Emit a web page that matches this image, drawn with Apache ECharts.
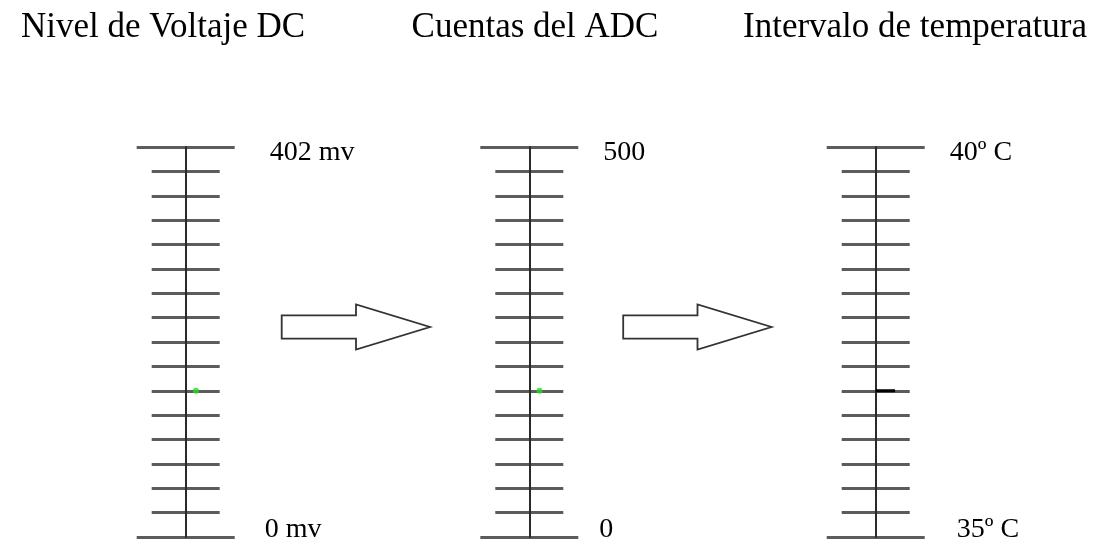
<!DOCTYPE html>
<html>
<head>
<meta charset="utf-8">
<script src="https://cdn.jsdelivr.net/npm/echarts@6/dist/echarts.min.js"></script>
<style>
html,body{margin:0;padding:0;background:#fff;}
#main{width:1093px;height:546px;}
</style>
</head>
<body>
<div id="main"></div>
<script>
// ---- data ----
const titles = ['Nivel de Voltaje DC', 'Cuentas del ADC', 'Intervalo de temperatura'];
const scaleMin = [0, 0, 35];
const scaleMax = [402, 500, 40];
const divisions = [16, 16, 16];
const unitSuffix = [' mv', '', 'º C'];
const readings = [150.75, 187.5, 36.875];

// ---- layout (pixels) ----
const axisX = [185.7, 529.3, 875.7];
const titleX = [158, 530, 910];
const gridTop = 147;
const gridHeight = 390;
const shortHalf = 34;
const longHalf = 49;
const labelMargin = [30, 21, 25];
const topPadLeft = [5, 4, 0];
const botPadLeft = [0, 0, 7];

const serif = '"Liberation Serif", "Times New Roman", serif';
const tickColor = '#5c5c5c';

const grids = [], xAxes = [], yAxes = [], series = [], titleList = [];

for (let i = 0; i < 3; i++) {
  const min = scaleMin[i], max = scaleMax[i];
  // grid A: short ticks + vertical line
  grids.push({ left: axisX[i] - shortHalf, width: shortHalf * 2, top: gridTop, height: gridHeight, containLabel: false });
  // grid B: long end ticks + labels
  grids.push({ left: axisX[i] - longHalf, width: longHalf * 2, top: gridTop, height: gridHeight, containLabel: false });
  const ga = 2 * i, gb = 2 * i + 1;
  xAxes.push({ gridIndex: ga, type: 'value', min: -1, max: 1, show: false });
  xAxes.push({ gridIndex: gb, type: 'value', min: -1, max: 1, show: false });
  yAxes.push({
    gridIndex: ga, type: 'value', min: min, max: max, interval: (max - min) / divisions[i],
    axisLine: { show: true, onZero: true, lineStyle: { color: '#2a2a2a', width: 2 } },
    axisTick: { show: false }, axisLabel: { show: false },
    splitLine: { show: true, lineStyle: { color: tickColor, width: 3 } }
  });
  yAxes.push({
    gridIndex: gb, type: 'value', min: min, max: max, interval: max - min, position: 'right',
    axisLine: { show: false }, axisTick: { show: false },
    splitLine: { show: true, lineStyle: { color: tickColor, width: 3 } },
    axisLabel: {
      show: true, margin: labelMargin[i],
      formatter: function (v) {
        const txt = v + unitSuffix[i];
        return (v === max ? '{t|' : '{b|') + txt + '}';
      },
      rich: {
        t: { fontFamily: serif, fontSize: 28, color: '#000', padding: [12, 0, 0, topPadLeft[i]] },
        b: { fontFamily: serif, fontSize: 28, color: '#000', padding: [0, 0, 14, botPadLeft[i]] }
      }
    }
  });
  titleList.push({
    text: titles[i], left: titleX[i], top: 5, textAlign: 'center',
    textStyle: { fontFamily: serif, fontSize: 35, fontWeight: 'normal', color: '#000' }
  });
}

// reading markers
series.push({ type: 'scatter', xAxisIndex: 0, yAxisIndex: 0, data: [[0.3, readings[0]]], symbolSize: 6, itemStyle: { color: '#1fe01f' }, silent: true, z: 5 });
series.push({ type: 'scatter', xAxisIndex: 2, yAxisIndex: 2, data: [[0.3, readings[1]]], symbolSize: 6, itemStyle: { color: '#1fe01f' }, silent: true, z: 5 });
series.push({ type: 'line', xAxisIndex: 4, yAxisIndex: 4, data: [[0, readings[2]], [0.57, readings[2]]], symbol: 'none', lineStyle: { color: '#000', width: 3 }, silent: true, z: 5 });

function arrow(x0) {
  const body = 74.3, head = 74, y0 = 327, bh = 11.7, hh = 22.5;
  return {
    type: 'polygon', silent: true,
    shape: { points: [
      [x0, y0 - bh], [x0 + body, y0 - bh], [x0 + body, y0 - hh], [x0 + body + head, y0],
      [x0 + body, y0 + hh], [x0 + body, y0 + bh], [x0, y0 + bh]
    ] },
    style: { fill: '#fff', stroke: '#333', lineWidth: 1.8 }
  };
}

const chart = echarts.init(document.getElementById('main'), null, { renderer: 'canvas' });
chart.setOption({
  animation: false,
  backgroundColor: '#fff',
  title: titleList,
  grid: grids,
  xAxis: xAxes,
  yAxis: yAxes,
  series: series,
  graphic: [arrow(281.7), arrow(623.2)]
});
</script>
</body>
</html>
